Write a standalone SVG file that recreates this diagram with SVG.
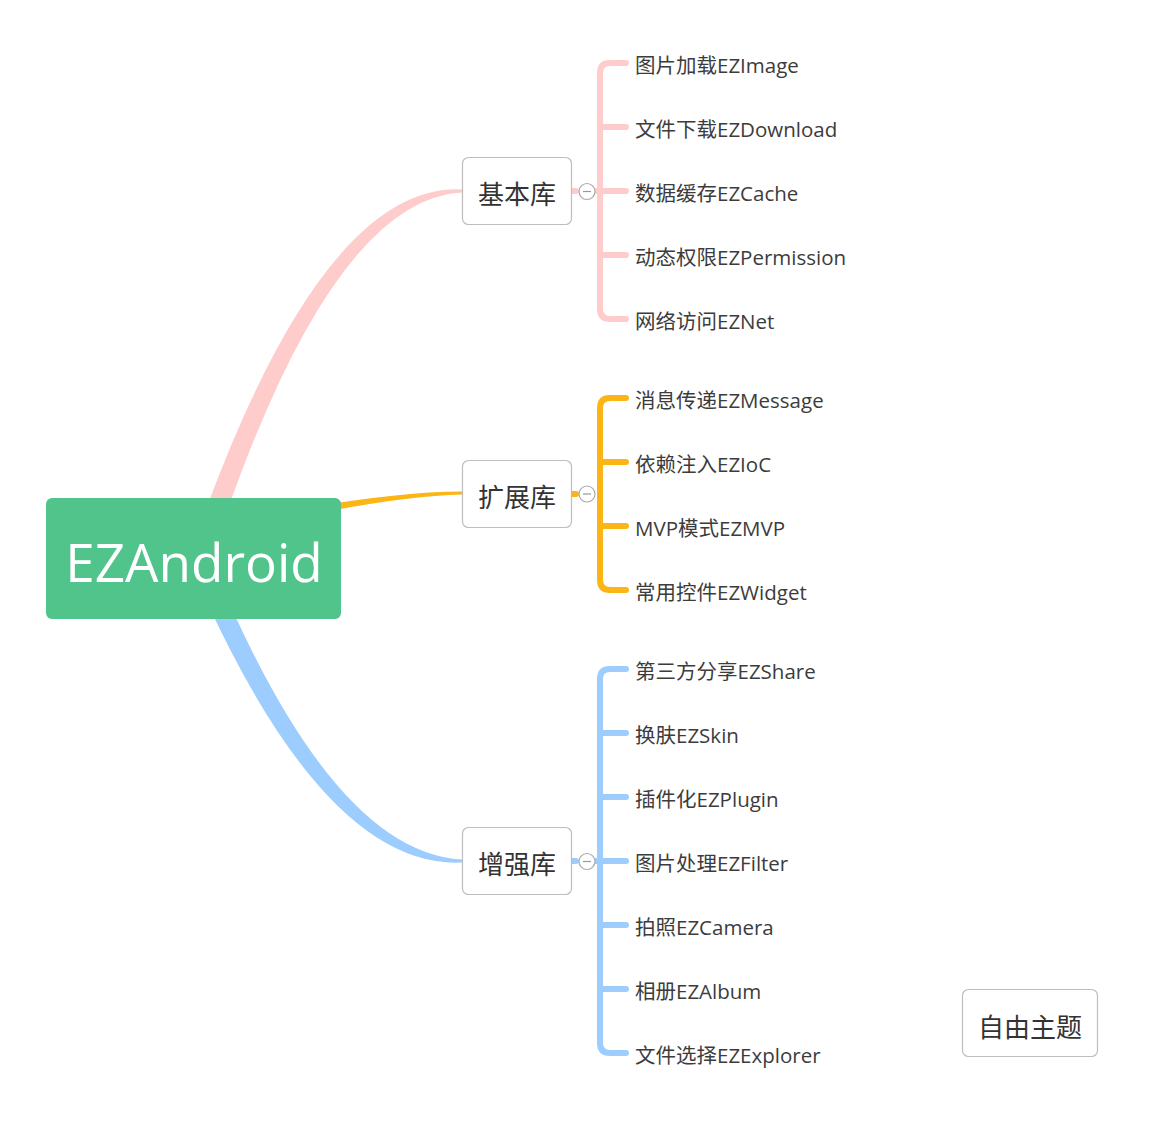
<svg xmlns="http://www.w3.org/2000/svg" width="1149" height="1121" viewBox="0 0 1149 1121">
<style>
.bg{fill:#ffffff}
.box{fill:#ffffff;stroke:#bdbdbd;stroke-width:1.2}
.lbl{font-family:"Open Sans","Noto Sans CJK SC",sans-serif;font-size:20.5px;fill:#3c3c3c}
.blbl{font-family:"Open Sans","Noto Sans CJK SC",sans-serif;font-size:26px;fill:#333333;text-anchor:middle}
.root{font-family:"Open Sans","Noto Sans CJK SC",sans-serif;font-size:53px;fill:#ffffff;text-anchor:middle}
.pk{stroke:#ffcccc}
.og{stroke:#fbb515}
.bl{stroke:#9dcdff}
.br{fill:none;stroke-width:6;stroke-linecap:round;stroke-linejoin:round}
.tog{fill:#ffffff;stroke:#aaaaaa;stroke-width:1.2}
.min{stroke:#999999;stroke-width:1.2}
</style>
<rect class="bg" x="0" y="0" width="1149" height="1121"/>
<g id="connectors">
  <!-- main tapered curves -->
  <path d="M202 520 Q324.6 182.9 462 189.5 L462 192.5 Q335.4 199.1 224 520 Z" fill="#ffcccc"/>
  <path d="M206 600 Q329.8 869 462 862.5 L462 859.5 Q340.2 853 228 600 Z" fill="#9dcdff"/>
  <path d="M300 509 Q400 491.5 462 491.5 L462 494.5 Q400 496 300 517 Z" fill="#fbb515"/>
  <!-- base library branches -->
  <g class="br pk">
    <line x1="572" y1="191" x2="576" y2="191"/>
    <path d="M626 63 H610 Q600 63 600 73 V309 Q600 319 610 319 H626"/>
    <path d="M600 127 H626 M595 191 H626 M600 255 H626"/>
  </g>
  <!-- extension library branches -->
  <g class="br og">
    <line x1="572" y1="494" x2="576" y2="494"/>
    <path d="M626 398 H610 Q600 398 600 408 V580 Q600 590 610 590 H626"/>
    <path d="M600 462 H626 M600 526 H626"/>
  </g>
  <!-- enhancement library branches -->
  <g class="br bl">
    <line x1="572" y1="861" x2="576" y2="861"/>
    <path d="M626 669 H610 Q600 669 600 679 V1043 Q600 1053 610 1053 H626"/>
    <path d="M600 733 H626 M600 797 H626 M595 861 H626 M600 925 H626 M600 989 H626"/>
  </g>
  <!-- collapse toggles -->
  <g id="toggles">
    <circle class="tog" cx="587" cy="191.5" r="8"/>
    <line class="min" x1="583" y1="191.5" x2="591" y2="191.5"/>
    <circle class="tog" cx="587" cy="494" r="8"/>
    <line class="min" x1="583" y1="494" x2="591" y2="494"/>
    <circle class="tog" cx="587" cy="861.5" r="8"/>
    <line class="min" x1="583" y1="861.5" x2="591" y2="861.5"/>
  </g>
</g>
<g id="root">
  <rect x="46" y="498" width="295" height="121" rx="6" fill="#51c48b"/>
  <text class="root" x="194" y="582">EZAndroid</text>
</g>
<g id="base">
  <rect class="box" x="462.5" y="157.5" width="109" height="67" rx="6"/>
  <text class="blbl" x="517" y="204">基本库</text>
</g>
<g id="ext">
  <rect class="box" x="462.5" y="460.5" width="109" height="67" rx="6"/>
  <text class="blbl" x="517" y="507">扩展库</text>
</g>
<g id="enh">
  <rect class="box" x="462.5" y="827.5" width="109" height="67" rx="6"/>
  <text class="blbl" x="517" y="874">增强库</text>
</g>
<g id="free">
  <rect class="box" x="962.5" y="989.5" width="135" height="67" rx="6"/>
  <text class="blbl" x="1030" y="1037">自由主题</text>
</g>
<g id="base-children">
  <g id="n-image"><text class="lbl" x="635" y="73">图片加载EZImage</text></g>
  <g id="n-download"><text class="lbl" x="635" y="137">文件下载EZDownload</text></g>
  <g id="n-cache"><text class="lbl" x="635" y="201">数据缓存EZCache</text></g>
  <g id="n-permission"><text class="lbl" x="635" y="265">动态权限EZPermission</text></g>
  <g id="n-net"><text class="lbl" x="635" y="329">网络访问EZNet</text></g>
</g>
<g id="ext-children">
  <g id="n-message"><text class="lbl" x="635" y="408">消息传递EZMessage</text></g>
  <g id="n-ioc"><text class="lbl" x="635" y="472">依赖注入EZIoC</text></g>
  <g id="n-mvp"><text class="lbl" x="635" y="536">MVP模式EZMVP</text></g>
  <g id="n-widget"><text class="lbl" x="635" y="600">常用控件EZWidget</text></g>
</g>
<g id="enh-children">
  <g id="n-share"><text class="lbl" x="635" y="679">第三方分享EZShare</text></g>
  <g id="n-skin"><text class="lbl" x="635" y="743">换肤EZSkin</text></g>
  <g id="n-plugin"><text class="lbl" x="635" y="807">插件化EZPlugin</text></g>
  <g id="n-filter"><text class="lbl" x="635" y="871">图片处理EZFilter</text></g>
  <g id="n-camera"><text class="lbl" x="635" y="935">拍照EZCamera</text></g>
  <g id="n-album"><text class="lbl" x="635" y="999">相册EZAlbum</text></g>
  <g id="n-explorer"><text class="lbl" x="635" y="1063">文件选择EZExplorer</text></g>
</g>
</svg>
